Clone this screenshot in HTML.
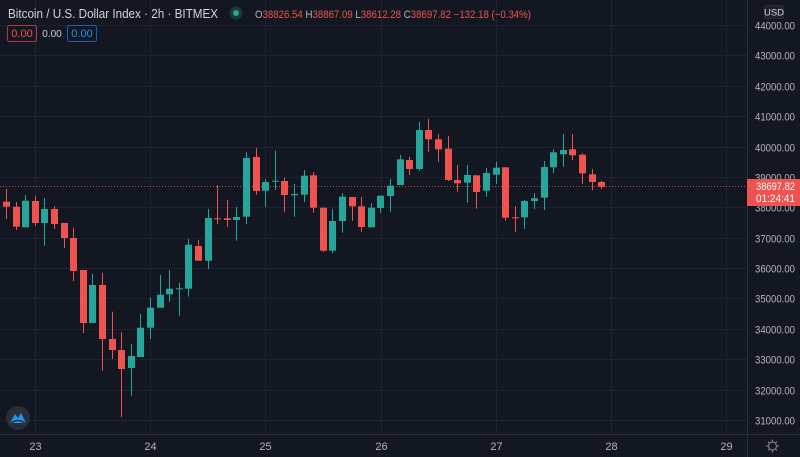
<!DOCTYPE html>
<html><head><meta charset="utf-8"><style>
html,body{margin:0;padding:0;background:#131722;width:800px;height:457px;overflow:hidden}
svg{display:block}
text{font-family:"Liberation Sans",sans-serif}
</style></head><body>
<svg id="s" width="800" height="457" xmlns="http://www.w3.org/2000/svg">
<rect width="800" height="457" fill="#131722"/>
<g id="grid" stroke="#1f2330" stroke-width="1"></g>
<line x1="747.5" y1="0" x2="747.5" y2="457" stroke="#2a2e39"/>
<line x1="0" y1="434.5" x2="800" y2="434.5" stroke="#2a2e39"/>
<line x1="0" y1="186.5" x2="747" y2="186.5" stroke="#ef5350" stroke-width="1" stroke-dasharray="1,2" opacity="0.8"/>
<g id="candles"></g>
<g id="ylab" fill="#b2b5be" font-size="11"></g>
<g id="xlab" fill="#b2b5be" font-size="11" text-anchor="middle"></g>
<rect x="747" y="179" width="53" height="27" fill="#ef5350"/>
<text x="756" y="190" fill="#fff" font-size="11" textLength="39" lengthAdjust="spacingAndGlyphs">38697.82</text>
<text x="756" y="202" fill="#fff" font-size="11" textLength="39" lengthAdjust="spacingAndGlyphs">01:24:41</text>
<rect x="764.5" y="5.5" width="19" height="13" rx="2" fill="#1e222d" stroke="#2a2e39"/>
<text x="774" y="15.5" fill="#d1d4dc" font-size="9.5" text-anchor="middle">USD</text>
<circle cx="772.5" cy="446" r="4" fill="none" stroke="#787b86" stroke-width="1.2"/>
<g stroke="#787b86" stroke-width="1.2">
<line x1="772.5" y1="439.5" x2="772.5" y2="441.5"/><line x1="772.5" y1="450.5" x2="772.5" y2="452.5"/>
<line x1="766" y1="446" x2="768" y2="446"/><line x1="777" y1="446" x2="779" y2="446"/>
<line x1="768" y1="441.5" x2="769.3" y2="442.8"/><line x1="775.7" y1="449.2" x2="777" y2="450.5"/>
<line x1="777" y1="441.5" x2="775.7" y2="442.8"/><line x1="769.3" y1="449.2" x2="768" y2="450.5"/>
</g>
<circle cx="18" cy="418" r="12" fill="#2a2e39"/>
<path d="M10 423 L15 414 L18 418 L21 413 L26 423 Z" fill="#2196f3"/>
<path d="M11 423 Q18 418 25 423" fill="none" stroke="#2a2e39" stroke-width="1.5"/>
<text x="8" y="18" fill="#d1d4dc" font-size="12.5" textLength="210" lengthAdjust="spacingAndGlyphs">Bitcoin / U.S. Dollar Index · 2h · BITMEX</text>
<circle cx="236" cy="13" r="6.5" fill="#1a3a37"/>
<circle cx="236" cy="13" r="3" fill="#26a69a"/>
<text x="255" y="18" font-size="11" textLength="276" lengthAdjust="spacingAndGlyphs"><tspan fill="#b2b5be">O</tspan><tspan fill="#ef5350">38826.54 </tspan><tspan fill="#b2b5be">H</tspan><tspan fill="#ef5350">38867.09 </tspan><tspan fill="#b2b5be">L</tspan><tspan fill="#ef5350">38612.28 </tspan><tspan fill="#b2b5be">C</tspan><tspan fill="#ef5350">38697.82 −132.18 (−0.34%)</tspan></text>
<rect x="7.5" y="25.5" width="29" height="16" rx="2" fill="none" stroke="#b2393a"/>
<text x="22" y="37" fill="#ef5350" font-size="11" text-anchor="middle">0.00</text>
<text x="52" y="37" fill="#d1d4dc" font-size="10" text-anchor="middle">0.00</text>
<rect x="67.5" y="25.5" width="29" height="16" rx="2" fill="none" stroke="#1e5fa8"/>
<text x="82" y="37" fill="#2196f3" font-size="11" text-anchor="middle">0.00</text>
</svg>
<script>
var NS="http://www.w3.org/2000/svg";
function el(p,t,a){var e=document.createElementNS(NS,t);for(var k in a)e.setAttribute(k,a[k]);p.appendChild(e);return e;}
var g=document.getElementById('grid'),yl=document.getElementById('ylab'),xl=document.getElementById('xlab');
for(var p=31000;p<=44000;p+=1000){var y=Math.round(420-(p-31000)*0.03038)+0.5;
 el(g,'line',{x1:0,y1:y,x2:747,y2:y});
 var t=el(yl,'text',{x:755,y:y+4,textLength:40,lengthAdjust:'spacingAndGlyphs'});t.textContent=p+".00";}
var days=[23,24,25,26,27,28,29];
for(var i=0;i<7;i++){var x=Math.round(35+115.2*i)+0.5;
 el(g,'line',{x1:x,y1:0,x2:x,y2:434});
 el(xl,'text',{x:x,y:450}).textContent=days[i];}
var d=[
['r',201.7,206.7,189,219],['r',206.7,226.7,202,230],['g',200.7,227.3,195,227.3],['r',201,223,196,226],
['g',209,223,198,245.7],['r',209,224,206,229],['r',223,238,223,248],['r',238,271,227.7,281],
['r',270,323,270,333],['g',285,323,274,323],['r',285,339,273,370.7],['r',339,350,311.7,359],
['r',350,369,332,417],['g',356,368,344,395.7],['g',327.7,357,314,357],['g',307.7,327.7,297.7,339],
['g',294.7,307.7,275,307.7],['g',288.7,294.3,270,301.7],['g',288.3,289.3,282.7,315.7],['g',244.7,288.7,239,296.7],
['r',246,260.7,240,260.7],['g',218,260.7,209,269],['r',218.3,219.3,185,224],['r',218.3,220,200,227],
['g',217,220,207,240.7],['g',158,216.7,152,224],['r',157,191,148,194.7],['g',182,190.7,179,207],
['g',180.7,181.7,150.7,190],['r',181,195,177.7,212],['g',194,195.3,184,216.7],['g',175.7,194.7,170,202],
['r',175.3,207.7,172,212.7],['r',207.7,250.7,207.7,252],['g',221,250.7,209,253],['g',196.7,221,193,232.7],
['r',197,206.3,197,220.7],['r',206.3,227,197,231.7],['g',207.7,227.3,203,227.3],['g',195.7,208,195.7,213],
['g',185.7,196,179,211.7],['g',159.3,185,155,185],['r',160,169,156.7,175],['g',130,169,122,170.7],
['r',130,139.3,119,151.7],['r',139.3,149.3,134,162],['r',148.7,180,136,181],['r',180,183.3,165,191.7],
['g',175,182.7,165,202.7],['r',175.3,192,175.3,208.7],['g',173,190.7,168,196.7],['g',167.7,174.7,161.7,184],
['r',167.3,217.7,167.3,220.7],['r',217.3,218.3,206,231.7],['g',201,217.3,200,229],['g',198.3,201,193,209],
['g',167,197.7,161,210],['g',152.3,167.3,149.3,173.3],['g',150,154.3,134,166.7],['r',149.3,155.3,134,160],
['r',154.7,173.3,153.3,184],['r',174.3,182,169,190.3],['r',182,186.7,180.7,189]];
var c=document.getElementById('candles');
for(var i=0;i<d.length;i++){var q=d[i],col=q[0]=='g'?'#26a69a':'#ef5350';
 var xc=Math.round(6+9.6*i)+0.5;
 el(c,'line',{x1:xc,y1:q[3],x2:xc,y2:q[4],stroke:col,'stroke-width':1});
 el(c,'rect',{x:xc-3.5,y:q[1],width:7,height:Math.max(1,q[2]-q[1]),fill:col});}
var s=document.getElementById('s');
var lab=s.querySelector('rect[x="747"]');
yl.parentNode.insertBefore(yl,lab);
</script>
</body></html>
